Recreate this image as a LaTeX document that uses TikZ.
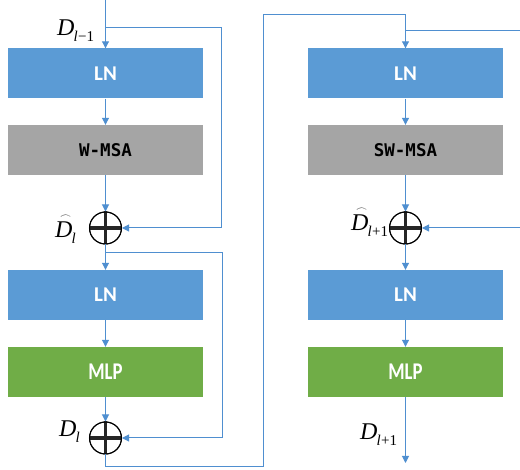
\documentclass[tikz,border=0pt]{standalone}
\usepackage{fontspec}
\setmainfont{Liberation Serif}
\newfontfamily\boxfont{Carlito}
\newfontfamily\monofont{DejaVu Sans Mono}
\usetikzlibrary{arrows.meta}
\definecolor{lnblue}{HTML}{5B9BD5}
\definecolor{msagray}{HTML}{A5A5A5}
\definecolor{mlpgreen}{HTML}{70AD47}
\definecolor{wire}{HTML}{4F8FD0}
\newcommand\Dsym[1]{{\fontsize{24}{24}\selectfont\itshape D}\kern-1pt\raisebox{-6pt}{\fontsize{15}{15}\selectfont #1}}
\newcommand\Dhatsym[1]{\rlap{\kern5pt\raisebox{19pt}{\scalebox{1.1}[0.9]{$\frown$}}}\Dsym{#1}}
\begin{document}
\begin{tikzpicture}[x=1pt,y=-1pt,
  blk/.style={minimum width=195pt,minimum height=50pt,inner sep=0pt,draw=none},
  lnbox/.style={blk,fill=lnblue,text=white,font=\boxfont\bfseries\fontsize{21}{21}\selectfont},
  msabox/.style={blk,fill=msagray,text=black,font=\monofont\bfseries\fontsize{17.5}{17.5}\selectfont},
  mlpbox/.style={blk,fill=mlpgreen,text=white,font=\boxfont\bfseries\fontsize{24}{24}\selectfont},
  adder/.style={circle,draw=black,line width=1pt,minimum size=32pt,inner sep=0pt},
  wireline/.style={draw=wire,line width=1pt},
  arr/.style={wireline,-{Triangle[width=7pt,length=7pt]}},
  lab/.style={inner sep=0pt,anchor=base west}]
\useasboundingbox (0,0) rectangle (520,470);
% left column
\node[lnbox] (ln1) at (105.5,73.5) {LN};
\node[msabox] (wmsa) at (105.5,150) {W-MSA};
\node[adder] (c1) at (105.5,228) {};
\node[lnbox] (ln2) at (105.5,295) {LN};
\node[mlpbox] (mlp1) at (105.5,372) {\scalebox{0.78}[1]{MLP}};
\node[adder] (c2) at (105.5,438) {};
% right column
\node[lnbox] (rln1) at (405.5,73.5) {LN};
\node[msabox] (swmsa) at (405.5,150) {SW-MSA};
\node[adder] (rc1) at (405.5,228) {};
\node[lnbox] (rln2) at (405.5,295) {LN};
\node[mlpbox] (rmlp) at (405.5,372) {\scalebox{0.78}[1]{MLP}};
% adder crosses
\foreach \c in {c1,c2,rc1}{
  \draw[black!85,line width=3.5pt] (\c.north) -- (\c.south);
  \draw[black!85,line width=3.5pt] (\c.west) -- (\c.east);
  \draw[black,line width=1pt] (\c) circle (16pt);
}
% coordinates
\coordinate (in) at (105.5,0);
\coordinate (b1) at (105.5,28);
\coordinate (b1r) at (221,28);
\coordinate (b2) at (105.5,253);
\coordinate (b2r) at (222,253);
\coordinate (o1) at (105.5,467);
\coordinate (o2) at (263,467);
\coordinate (o3) at (263,15);
\coordinate (o4) at (405.5,15);
\coordinate (rb) at (405.5,31);
\coordinate (rbin) at (520,31);
\coordinate (rin) at (520,228);
\coordinate (out) at (405.5,463);
% left wires
\draw[arr] (in) -- (ln1.north);
\draw[wireline] (b1) -- (b1r) -- (b1r |- c1);
\draw[arr] (b1r |- c1) -- (c1.east);
\draw[arr] (ln1.south) -- (wmsa.north);
\draw[arr] (wmsa.south) -- (c1.north);
\draw[arr] (c1.south) -- (ln2.north);
\draw[wireline] (b2) -- (b2r) -- (b2r |- c2);
\draw[arr] (b2r |- c2) -- (c2.east);
\draw[arr] (ln2.south) -- (mlp1.north);
\draw[arr] (mlp1.south) -- (c2.north);
\draw[wireline] (c2.south) -- (o1) -- (o2) -- (o3) -- (o4);
% right wires
\draw[arr] (o4) -- (rln1.north);
\draw[wireline] (rbin) -- (rb);
\draw[arr] (rln1.south) -- (swmsa.north);
\draw[arr] (swmsa.south) -- (rc1.north);
\draw[arr] (rin) -- (rc1.east);
\draw[arr] (rc1.south) -- (rln2.north);
\draw[arr] (rln2.south) -- (rmlp.north);
\draw[arr] (rmlp.south) -- (out);
% labels
\node[lab] (l1) at (57,36) {\Dsym{\textit{l}\kern0.5pt−1}};
\node[lab] (l2) at (55,238) {\Dhatsym{\textit{l}}};
\node[lab] (l3) at (59,437) {\Dsym{\textit{l}}};
\node[lab] (l4) at (351,231) {\Dhatsym{\textit{l}\kern0.5pt+1}};
\node[lab] (l5) at (360,440) {\Dsym{\textit{l}\kern0.5pt+1}};
\end{tikzpicture}
\end{document}
